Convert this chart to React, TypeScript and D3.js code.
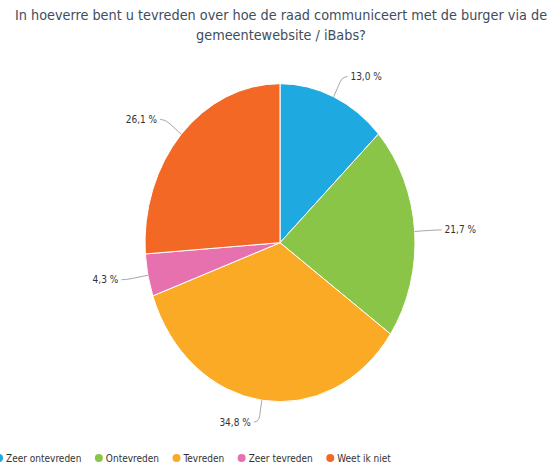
import React, { useEffect, useRef } from "react";
import * as d3 from "d3";

const categories = ["Zeer ontevreden", "Ontevreden", "Tevreden", "Zeer tevreden", "Weet ik niet"];
const values = [13.0, 21.7, 34.8, 4.3, 26.1];
const labels = ["13,0 %", "21,7 %", "34,8 %", "4,3 %", "26,1 %"];
const colors = ["#1fa9e1", "#8bc548", "#fbaa25", "#e770ae", "#f26824"];
const titleLines = [
  "In hoeverre bent u tevreden over hoe de raad communiceert met de burger via de",
  "gemeentewebsite / iBabs?",
];

const W = 552;
const H = 466;
const FONT = "'DejaVu Sans Condensed', 'DejaVu Sans', sans-serif";

export default function App() {
  const ref = useRef<SVGSVGElement | null>(null);

  useEffect(() => {
    document.body.style.margin = "0";
    const svg = d3.select(ref.current);
    svg.selectAll("*").remove();

    const cx = 280;
    const cy = 242.7;
    const rx = 135;
    const ry = 159;

    svg
      .append("g")
      .selectAll("text")
      .data(titleLines)
      .join("text")
      .attr("x", 281)
      .attr("y", (_d, i) => 20 + i * 19.5)
      .attr("text-anchor", "middle")
      .attr("font-family", FONT)
      .attr("font-size", 14.3)
      .attr("fill", "#3e4d5c")
      .text((d) => d);

    const pie = d3.pie<number>().sort(null).value((d) => d);
    const arcs = pie(values);
    const arc = d3.arc<d3.PieArcDatum<number>>().innerRadius(0).outerRadius(rx);

    const g = svg.append("g").attr("transform", `translate(${cx},${cy}) scale(1,${ry / rx})`);
    g.selectAll("path")
      .data(arcs)
      .join("path")
      .attr("d", arc)
      .attr("fill", (_d, i) => colors[i])
      .attr("stroke", "#ffffff")
      .attr("stroke-width", 1)
      .attr("vector-effect", "non-scaling-stroke");

    const lg = svg.append("g");
    arcs.forEach((a, i) => {
      const m = (a.startAngle + a.endAngle) / 2;
      const s = Math.sin(m);
      const c = Math.cos(m);
      const E = [cx + rx * s, cy - ry * c];
      const L = [cx + (rx + 22) * s, cy - (ry + 22) * c];
      const right = s >= 0;
      const Hx = L[0] + (right ? 5 : -5);
      const P = [E[0] + (L[0] - E[0]) * 0.7, E[1] + (L[1] - E[1]) * 0.7];
      lg.append("path")
        .attr("d", `M${E[0]},${E[1]}L${P[0]},${P[1]}Q${L[0]},${L[1]} ${Hx},${L[1]}`)
        .attr("fill", "none")
        .attr("stroke", "#a8a8a8")
        .attr("stroke-width", 1);
      lg.append("text")
        .attr("x", right ? Hx + 3 : Hx - 3)
        .attr("y", L[1])
        .attr("dy", "0.35em")
        .attr("text-anchor", right ? "start" : "end")
        .attr("font-family", FONT)
        .attr("font-size", 10)
        .attr("fill", "#333333")
        .text(labels[i]);
    });

    const leg = svg.append("g");
    let x = -1;
    categories.forEach((name, i) => {
      leg.append("circle").attr("cx", x).attr("cy", 458).attr("r", 4).attr("fill", colors[i]);
      const t = leg
        .append("text")
        .attr("x", x + 7)
        .attr("y", 458)
        .attr("dy", "0.35em")
        .attr("font-family", FONT)
        .attr("font-size", 10)
        .attr("fill", "#333333")
        .text(name);
      const w = (t.node() as SVGTextElement).getComputedTextLength();
      x = x + 7 + w + 17.5;
    });
  }, []);

  return <svg ref={ref} width={W} height={H} style={{ display: "block", background: "#ffffff" }} />;
}
